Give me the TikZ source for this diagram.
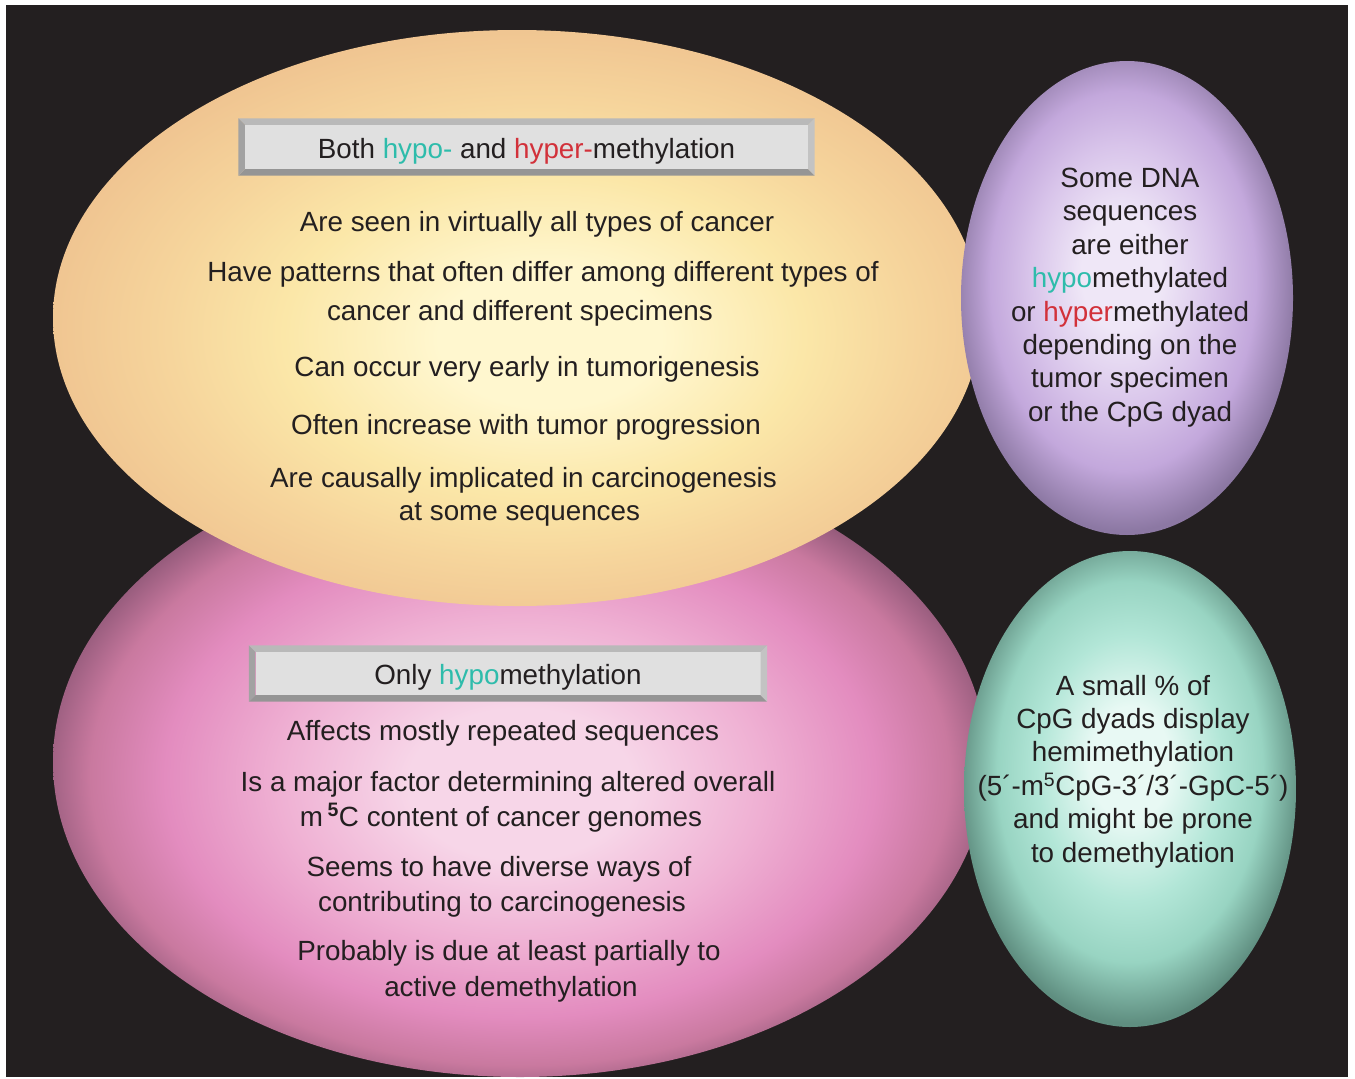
\documentclass[tikz,border=0pt]{standalone}
\usepackage{fontspec}
\setmainfont{Liberation Sans}
\usepackage{xcolor}
\usepackage{tikz}
\usetikzlibrary{calc,positioning}
\definecolor{bgdark}{HTML}{231F20}
\definecolor{inkc}{HTML}{231F20}
\definecolor{hypoc}{HTML}{2EBCAB}
\definecolor{hyperc}{HTML}{D2313A}
\definecolor{boxc}{HTML}{E0E0E0}
\definecolor{bevtop}{HTML}{B9B9B9}
\definecolor{bevleft}{HTML}{A2A2A2}
\definecolor{bevright}{HTML}{C3C3C3}
\definecolor{bevbot}{HTML}{959595}
\definecolor{yelA}{HTML}{FFF7CF}
\definecolor{yelB}{HTML}{FBE7A8}
\definecolor{yelC}{HTML}{F6D59C}
\definecolor{yelD}{HTML}{EFC390}
\definecolor{pnkA}{HTML}{F7D6E8}
\definecolor{pnkB}{HTML}{EFB0D3}
\definecolor{pnkC}{HTML}{E38CBF}
\definecolor{pnkD}{HTML}{C9799F}
\definecolor{pnkE}{HTML}{905878}
\definecolor{purA}{HTML}{EFE7F7}
\definecolor{purB}{HTML}{D8C4EA}
\definecolor{purC}{HTML}{C3A8DC}
\definecolor{purD}{HTML}{8C78A3}
\definecolor{tealA}{HTML}{E8F9F4}
\definecolor{tealB}{HTML}{B2E6D7}
\definecolor{tealC}{HTML}{98D4C2}
\definecolor{tealD}{HTML}{5F8E80}
\pgfdeclareradialshading{yelshade}{\pgfpoint{2bp}{-2bp}}{color(0bp)=(yelA); color(6bp)=(yelA); color(14bp)=(yelB); color(20bp)=(yelC); color(27bp)=(yelD); color(50bp)=(yelD)}
\pgfdeclareradialshading{pnkshade}{\pgfpoint{0bp}{-2bp}}{color(0bp)=(pnkA); color(6bp)=(pnkA); color(13bp)=(pnkB); color(19bp)=(pnkC); color(23bp)=(pnkD); color(26bp)=(pnkE); color(50bp)=(pnkE)}
\pgfdeclareradialshading{purshade}{\pgfpoint{-1bp}{3bp}}{color(0bp)=(purA); color(6bp)=(purA); color(14bp)=(purB); color(20bp)=(purC); color(26bp)=(purD); color(50bp)=(purD)}
\pgfdeclareradialshading{tealshade}{\pgfpoint{0bp}{3bp}}{color(0bp)=(tealA); color(6bp)=(tealA); color(14bp)=(tealB); color(20bp)=(tealC); color(26bp)=(tealD); color(50bp)=(tealD)}
\tikzset{
  line/.style={anchor=base,inner sep=0pt,text=inkc,font=\fontsize{27.8}{33.4}\selectfont},
  blurb/.style={align=center,inner sep=0pt,text=inkc,font=\fontsize{27.8}{33.4}\selectfont},
  titlebox/.style={fill=boxc,inner sep=0pt,text depth=0pt,text=inkc,font=\fontsize{27.8}{33.4}\selectfont}
}
\newcommand{\hypoword}[1]{\textcolor{hypoc}{#1}}
\newcommand{\hyperword}[1]{\textcolor{hyperc}{#1}}
\newcommand{\bevel}[1]{%
  \fill[bevtop] ([shift={(-6.5pt,6.5pt)}]#1.north west) -- ([shift={(6.5pt,6.5pt)}]#1.north east) -- (#1.north east) -- (#1.north west) -- cycle;
  \fill[bevbot] ([shift={(-6.5pt,-6.5pt)}]#1.south west) -- ([shift={(6.5pt,-6.5pt)}]#1.south east) -- (#1.south east) -- (#1.south west) -- cycle;
  \fill[bevleft] ([shift={(-6.5pt,6.5pt)}]#1.north west) -- ([shift={(-6.5pt,-6.5pt)}]#1.south west) -- (#1.south west) -- (#1.north west) -- cycle;
  \fill[bevright] ([shift={(6.5pt,6.5pt)}]#1.north east) -- ([shift={(6.5pt,-6.5pt)}]#1.south east) -- (#1.south east) -- (#1.north east) -- cycle;}

\begin{document}
\begin{tikzpicture}[x=1pt,y=-1pt]
\useasboundingbox (0,0) rectangle (1355,1079);
\fill[white] (0,0) rectangle (1355,1079);
\fill[bgdark] (6,5) rectangle (1348,1077);
% the four ellipses, back to front
\shade[shading=pnkshade] (520,762) ellipse [x radius=467pt,y radius=315pt];
\shade[shading=yelshade] (517,318) ellipse [x radius=464pt,y radius=288pt];
\shade[shading=purshade] (1127,298) ellipse [x radius=166pt,y radius=237pt];
\shade[shading=tealshade] (1130,789) ellipse [x radius=166pt,y radius=238pt];

% yellow: both kinds
\node[titlebox,minimum width=563pt,minimum height=44pt] (both) at (526.5,147)
  {\raisebox{-3pt}{Both \hypoword{hypo-} and \hyperword{hyper-}methylation}};
\bevel{both}
\node[line] (b1) at (537,231) {Are seen in virtually all types of cancer};
\node[line] (b2) at (543,281) {Have patterns that often differ among different types of};
\node[line] (b3) at (520,320) {cancer and different specimens};
\node[line] (b4) at (527,376) {Can occur very early in tumorigenesis};
\node[line] (b5) at (526,434) {Often increase with tumor progression};
\node[line] (b6) at (523.5,487) {Are causally implicated in carcinogenesis};
\node[line] (b7) at (519.5,520) {at some sequences};

% pink: hypo only
\node[titlebox,minimum width=505pt,minimum height=43pt] (only) at (508,673.5)
  {\raisebox{-2pt}{Only \hypoword{hypo}methylation}};
\bevel{only}
\node[line] (o1) at (503,740) {Affects mostly repeated sequences};
\node[line] (o2) at (508,791) {Is a major factor determining altered overall};
\node[line] (o3) at (501,826) {m\,\textsuperscript{\textbf{5}}C content of cancer genomes};
\node[line] (o4) at (499,876) {Seems to have diverse ways of};
\node[line] (o5) at (502,911) {contributing to carcinogenesis};
\node[line] (o6) at (509,960) {Probably is due at least partially to};
\node[line] (o7) at (511,996) {active demethylation};

% right side
\node[blurb] (either) at (1130,297.5) {Some DNA\\sequences\\are either\\\hypoword{hypo}methylated\\or \hyperword{hyper}methylated\\depending on the\\tumor specimen\\or the CpG dyad};
\node[blurb] (hemi) at (1133,771.5) {A small \% of\\CpG dyads display\\hemimethylation\\(5´-m\textsuperscript{5}CpG-3´/3´-GpC-5´)\\and might be prone\\to demethylation};
\end{tikzpicture}
\end{document}
